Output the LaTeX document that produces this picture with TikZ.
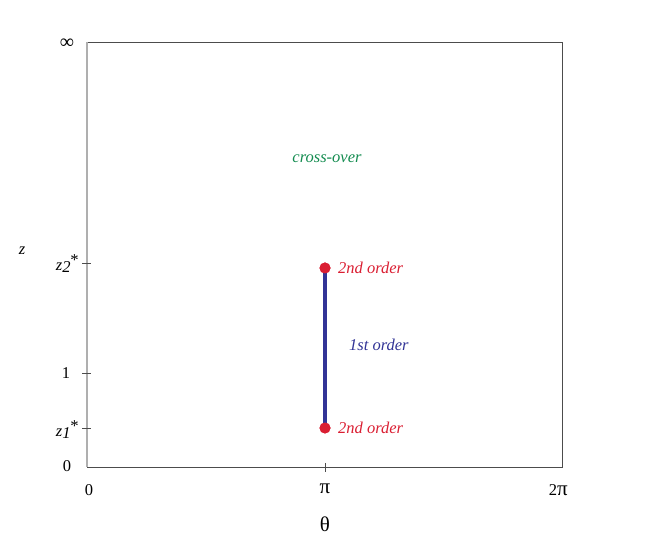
\documentclass[tikz,border=0pt]{standalone}
\usepackage{fontspec}
\setmainfont{Liberation Serif}
\definecolor{redc}{RGB}{218,30,50}
\definecolor{bluec}{RGB}{50,52,150}
\definecolor{greenc}{RGB}{20,140,80}
\definecolor{axisgray}{RGB}{175,175,175}
\begin{document}
\begin{tikzpicture}[x=1pt,y=-1pt,
  lbl/.style={font=\fontsize{16.5}{18}\selectfont, inner sep=0pt},
  glbl/.style={font=\fontsize{21}{24}\selectfont, inner sep=0pt},
  ilbl/.style={font=\fontsize{16.5}{18}\selectfont\itshape, inner sep=0pt},
  dot/.style={circle, fill=redc, minimum size=11pt, inner sep=0pt},
  tickmark/.style={draw=black!70, line width=0.6pt}]
\useasboundingbox (0,0) rectangle (662,545);
% frame
\draw[black!70, line width=0.7pt] (87,42) -- (562,42) -- (562,467) -- (87,467);
\draw[axisgray, line width=1.2pt] (87,42) -- (87,467);
% ticks
\draw[tickmark] (82,263) -- (91,263);
\draw[tickmark] (82,373) -- (91,373);
\draw[tickmark] (82,428) -- (91,428);
\draw[tickmark] (325,463) -- (325,472);
% y labels
\node[font=\fontsize{20}{22}\selectfont, inner sep=0pt] (inf) at (67,44) {∞};
\node[ilbl] (zlab) at (22,251) {z};
\node[ilbl, anchor=east] (z2) at (78,264) {z\raisebox{-0.35ex}{2}\kern-1pt\raisebox{0.55ex}{*}};
\node[lbl] (one) at (66,373) {1};
\node[ilbl, anchor=east] (z1) at (78,430) {z\raisebox{-0.35ex}{1}\kern-1pt\raisebox{0.55ex}{*}};
\node[lbl] (zero) at (67,466) {0};
% x labels
\node[lbl] (x0) at (89,490) {0};
\node[glbl] (xpi) at (325,489) {π};
\node[lbl, anchor=east] (x2pi) at (568,490) {2\fontsize{21}{24}\selectfont π};
\node[glbl] (theta) at (325,524) {θ};
% content
\node[dot] (top) at (325,268) {};
\node[dot] (bot) at (325,428) {};
\draw[bluec, line width=3.5pt] (top.center) -- (bot.center);
\node[dot] at (325,268) {};
\node[dot] at (325,428) {};
\node[ilbl, text=redc, anchor=west] (t2) at (338,268) {2nd order};
\node[ilbl, text=redc, anchor=west] (b2) at (338,428) {2nd order};
\node[ilbl, text=bluec, anchor=west] (f1) at (349,345) {1st order};
\node[ilbl, text=greenc] (co) at (327,159) {cross-over};
\end{tikzpicture}
\end{document}
